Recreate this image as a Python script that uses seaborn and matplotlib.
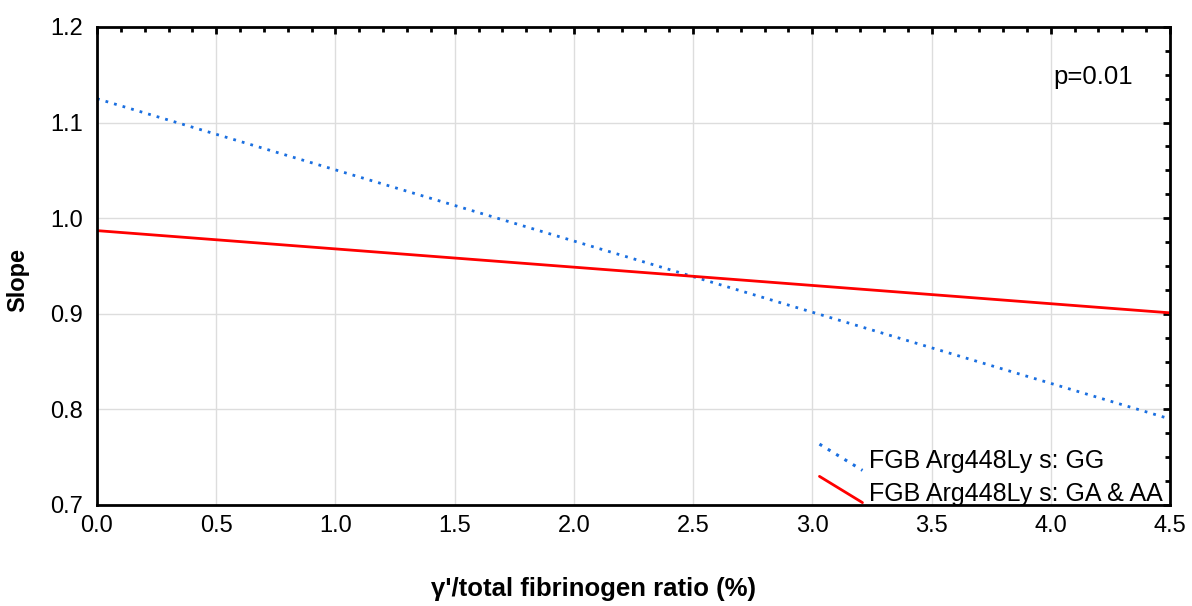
import numpy as np
import pandas as pd
import matplotlib
matplotlib.use("Agg")
import matplotlib.pyplot as plt
import seaborn as sns
from matplotlib.legend_handler import HandlerLine2D
from matplotlib.ticker import MultipleLocator

x_vals = [0.0, 4.5]
gg_slope = [1.125, 0.790]
gaaa_slope = [0.987, 0.901]
series_names = ["FGB Arg448Ly s: GG", "FGB Arg448Ly s: GA & AA"]

df = pd.DataFrame({
    "ratio": x_vals + x_vals,
    "slope": gg_slope + gaaa_slope,
    "group": [series_names[0]] * 2 + [series_names[1]] * 2,
})

sns.set_style("white")
plt.rcParams['font.family'] = ['Liberation Sans', 'DejaVu Sans']
plt.rcParams['text.color'] = 'black'
plt.rcParams['axes.labelcolor'] = 'black'

fig = plt.figure(figsize=(11.92, 6.06), dpi=100)
ax = fig.add_axes([97 / 1192, 1 - 505 / 606, (1170 - 97) / 1192, (505 - 27) / 606])

sns.lineplot(data=df, x="ratio", y="slope", hue="group", style="group",
             palette=["#1a6fe0", "#ff0000"],
             dashes={series_names[0]: (1, 2.2), series_names[1]: ""},
             linewidth=2, ax=ax, legend=False)

ax.set_xlim(0, 4.5)
ax.set_ylim(0.7, 1.2)
ax.xaxis.set_major_locator(MultipleLocator(0.5))
ax.xaxis.set_minor_locator(MultipleLocator(0.1))
ax.yaxis.set_major_locator(MultipleLocator(0.1))
ax.yaxis.set_minor_locator(MultipleLocator(0.025))
ax.grid(True, which="major", color="#dddddd", linewidth=1)
ax.tick_params(which="both", direction="in", top=True, right=True, colors="black",
               labelcolor="black", labelsize=17)
ax.tick_params(which="major", length=5, width=2)
ax.tick_params(which="minor", length=3.5, width=2)
ax.tick_params(axis="x", pad=7)
ax.tick_params(axis="y", pad=10)
for s in ax.spines.values():
    s.set_color("black")
    s.set_linewidth(2)
ax.set_xticklabels([f"{v:.1f}" for v in ax.get_xticks()])
ax.set_yticklabels([f"{v:.1f}" for v in ax.get_yticks()])

ax.set_xlabel("γ'/total fibrinogen ratio (%)", fontsize=18.5, fontweight="bold")
ax.xaxis.set_label_coords(0.463, -0.15)
ax.set_ylabel("Slope", fontsize=17, fontweight="bold")
ax.yaxis.set_label_coords(-0.063, 0.47)

ax.text(1093 / 1192, 1 - 77 / 606, "p=0.01", transform=fig.transFigure, fontsize=18.5,
        ha="center", va="center")


class DiagHandler(HandlerLine2D):
    def create_artists(self, legend, orig_handle, xdescent, ydescent, width, height, fontsize, trans):
        arts = super().create_artists(legend, orig_handle, xdescent, ydescent, width, height, fontsize, trans)
        line = arts[0]
        line.set_xdata([-xdescent, -xdescent + width])
        line.set_ydata([1.38 * height, -0.12 * height])
        return [line]


h1 = plt.Line2D([], [], color="#1a6fe0", linestyle=(0, (1, 2.2)), linewidth=2.2)
h2 = plt.Line2D([], [], color="#ff0000", linestyle="-", linewidth=2)
ax.legend([h1, h2], series_names, loc="lower right", frameon=False, fontsize=18,
          handler_map={h1: DiagHandler(), h2: DiagHandler()},
          handlelength=1.72, handletextpad=0.28, labelspacing=0.33,
          borderaxespad=0.0, bbox_to_anchor=(1.003, -0.022))

fig.savefig("out.png", dpi=100)
